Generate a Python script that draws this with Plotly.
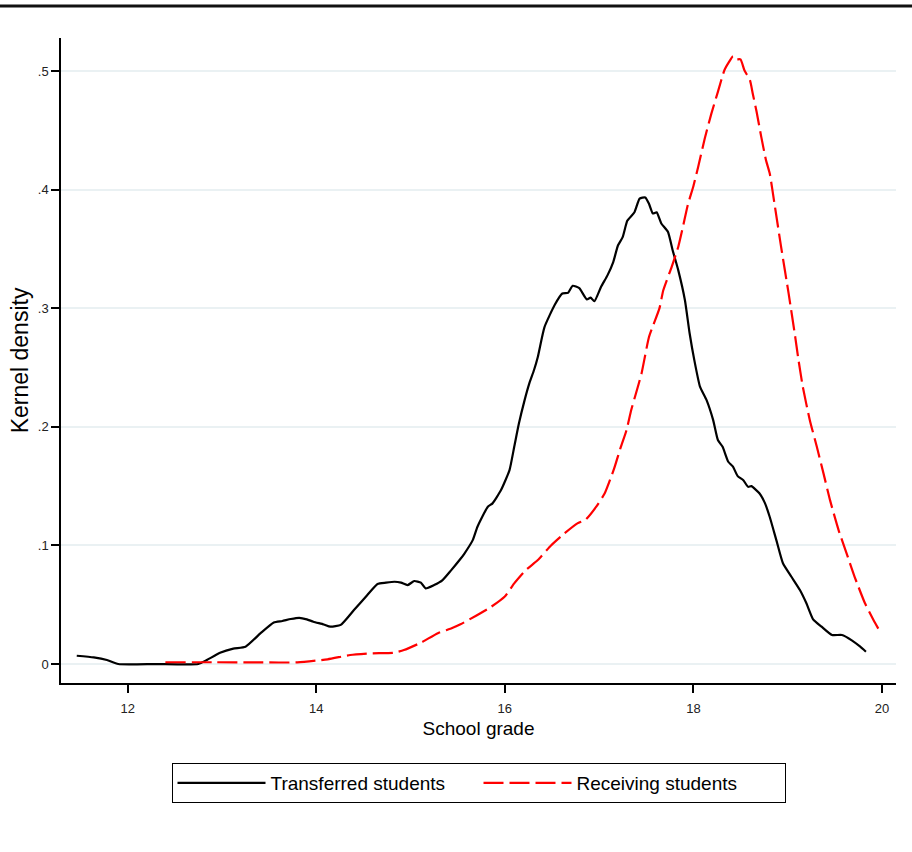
import plotly.graph_objects as go

# Kernel density estimates of school grades
transferred_grade = [
    11.46, 11.64, 11.78, 11.90, 12.30, 12.75, 12.84, 12.98, 13.12, 13.25,
    13.41, 13.55, 13.64, 13.73, 13.82, 13.90, 13.97, 14.08, 14.15, 14.26,
    14.40, 14.54, 14.65, 14.74, 14.83, 14.90, 14.97, 15.04, 15.11, 15.16,
    15.25, 15.34, 15.43, 15.52, 15.57, 15.66, 15.71, 15.82, 15.87, 15.96,
    16.05, 16.10, 16.15, 16.21, 16.26, 16.31, 16.35, 16.42, 16.53, 16.61,
    16.67, 16.72, 16.79, 16.87, 16.91, 16.95, 17.02, 17.09, 17.15, 17.20,
    17.25, 17.30, 17.375, 17.43, 17.49, 17.53, 17.57, 17.61, 17.66, 17.73,
    17.78, 17.84, 17.91, 17.96, 18.01, 18.07, 18.14, 18.21, 18.26, 18.31,
    18.37, 18.42, 18.47, 18.53, 18.58, 18.615, 18.70, 18.76, 18.81, 18.88,
    18.95, 19.04, 19.13, 19.20, 19.27, 19.36, 19.47, 19.575, 19.68, 19.77,
    19.83,
]
transferred_density = [
    0.0070, 0.0056, 0.0034, 0.0000, 0.0000, 0.0000, 0.0034, 0.0095, 0.0130, 0.0146,
    0.0260, 0.0350, 0.0363, 0.0380, 0.0390, 0.0377, 0.0357, 0.0334, 0.0315, 0.0330,
    0.0455, 0.0580, 0.0675, 0.0686, 0.0694, 0.0686, 0.0666, 0.0700, 0.0686, 0.0638,
    0.0666, 0.0708, 0.0790, 0.0877, 0.0930, 0.1045, 0.1158, 0.1327, 0.1355, 0.1467,
    0.1636, 0.1832, 0.2030, 0.2226, 0.2367, 0.2480, 0.2590, 0.2840, 0.3030, 0.3125,
    0.3130, 0.3190, 0.3170, 0.3075, 0.3090, 0.3060, 0.3180, 0.3280, 0.3390, 0.3530,
    0.3600, 0.3740, 0.3810, 0.3925, 0.3935, 0.3880, 0.3800, 0.3810, 0.3716, 0.3645,
    0.3490, 0.3320, 0.3070, 0.2790, 0.2563, 0.2340, 0.2226, 0.2057, 0.1889, 0.1832,
    0.1706, 0.1664, 0.1585, 0.1550, 0.1495, 0.1500, 0.1440, 0.1355, 0.1240, 0.1045,
    0.0850, 0.0736, 0.0624, 0.0510, 0.0377, 0.0315, 0.0245, 0.0245, 0.0200, 0.0146,
    0.0104,
]

receiving_grade = [
    12.40, 12.90, 13.41, 13.80, 14.12, 14.36, 14.58, 14.82, 14.93, 15.11,
    15.29, 15.43, 15.53, 15.70, 15.85, 16.00, 16.10, 16.22, 16.35, 16.49,
    16.63, 16.77, 16.86, 16.97, 17.06, 17.16, 17.23, 17.29, 17.34, 17.39,
    17.45, 17.53, 17.64, 17.68, 17.77, 17.84, 17.89, 17.94, 18.00, 18.05,
    18.12, 18.19, 18.26, 18.33, 18.38, 18.42, 18.45, 18.50, 18.54, 18.60,
    18.63, 18.67, 18.72, 18.77, 18.81, 18.86, 18.93, 19.01, 19.08, 19.11,
    19.16, 19.235, 19.31, 19.38, 19.45, 19.54, 19.625, 19.71, 19.82, 19.91,
    19.98,
]
receiving_density = [
    0.0015, 0.0015, 0.0014, 0.0014, 0.0040, 0.0076, 0.0090, 0.0095, 0.0118, 0.0180,
    0.0260, 0.0300, 0.0335, 0.0410, 0.0480, 0.0570, 0.0680, 0.0790, 0.0877, 0.1000,
    0.1100, 0.1186, 0.1220, 0.1327, 0.1440, 0.1650, 0.1830, 0.1970, 0.2140, 0.2280,
    0.2450, 0.2760, 0.3000, 0.3150, 0.3350, 0.3520, 0.3690, 0.3870, 0.4030, 0.4190,
    0.4430, 0.4640, 0.4826, 0.5010, 0.5080, 0.5126, 0.5100, 0.5100, 0.5010, 0.4924,
    0.4810, 0.4660, 0.4446, 0.4250, 0.4137, 0.3884, 0.3520, 0.3126, 0.2760, 0.2590,
    0.2340, 0.2057, 0.1830, 0.1608, 0.1380, 0.1130, 0.0933, 0.0736, 0.0512, 0.0371,
    0.0272,
]

x_ticks = [12, 14, 16, 18, 20]
y_ticks = [0, 0.1, 0.2, 0.3, 0.4, 0.5]
y_tick_labels = ["0", ".1", ".2", ".3", ".4", ".5"]

SANS = "Liberation Sans, Arial, sans-serif"

fig = go.Figure()
fig.add_trace(go.Scatter(
    x=transferred_grade, y=transferred_density, mode="lines",
    name="Transferred students",
    line=dict(color="black", width=2.2, shape="spline", smoothing=0.5),
))
fig.add_trace(go.Scatter(
    x=receiving_grade, y=receiving_density, mode="lines",
    name="Receiving students",
    line=dict(color="#ff0000", width=2.2, dash="20px,6px", shape="spline", smoothing=0.5),
))

W, H = 912, 852
ML, MR, MT, MB = 61, 16, 38, 169
plot_h = H - MT - MB

# heavy rule across the top of the page
top_rule_y = 1 + (MT - 6) / plot_h
fig.add_shape(type="line", xref="paper", yref="paper",
              x0=-ML / (W - ML - MR), x1=1 + MR / (W - ML - MR),
              y0=top_rule_y, y1=top_rule_y,
              line=dict(color="#111111", width=3))

fig.update_layout(
    width=W, height=H,
    margin=dict(l=ML, r=MR, t=MT, b=MB, pad=0),
    paper_bgcolor="white", plot_bgcolor="white",
    showlegend=True,
    legend=dict(
        orientation="h", x=0.5, xanchor="center",
        y=(683 - 763) / plot_h, yanchor="top",
        bordercolor="black", borderwidth=1,
        font=dict(family=SANS, size=19, color="black"),
        entrywidth=203, itemwidth=88,
        traceorder="normal",
    ),
    xaxis=dict(
        range=[11.293, 20.149],
        tickmode="array", tickvals=x_ticks,
        ticks="outside", ticklen=8, tickwidth=1.5, tickcolor="black",
        ticklabelstandoff=5,
        tickfont=dict(family=SANS, size=13, color="#222222"),
        showline=True, linecolor="black", linewidth=1.5,
        showgrid=False, zeroline=False,
        title=dict(text="School grade", font=dict(family=SANS, size=19, color="black"),
                   standoff=6),
    ),
    yaxis=dict(
        range=[-0.016, 0.528],
        tickmode="array", tickvals=y_ticks, ticktext=y_tick_labels,
        ticks="outside", ticklen=8, tickwidth=1.5, tickcolor="black",
        tickfont=dict(family=SANS, size=13, color="#222222"),
        showline=True, linecolor="black", linewidth=1.5,
        showgrid=True, gridcolor="#eaf1f3", gridwidth=2,
        zeroline=False,
        title=dict(text="Kernel density", font=dict(family=SANS, size=23, color="black"),
                   standoff=3),
    ),
)

fig.write_html("out.html")
